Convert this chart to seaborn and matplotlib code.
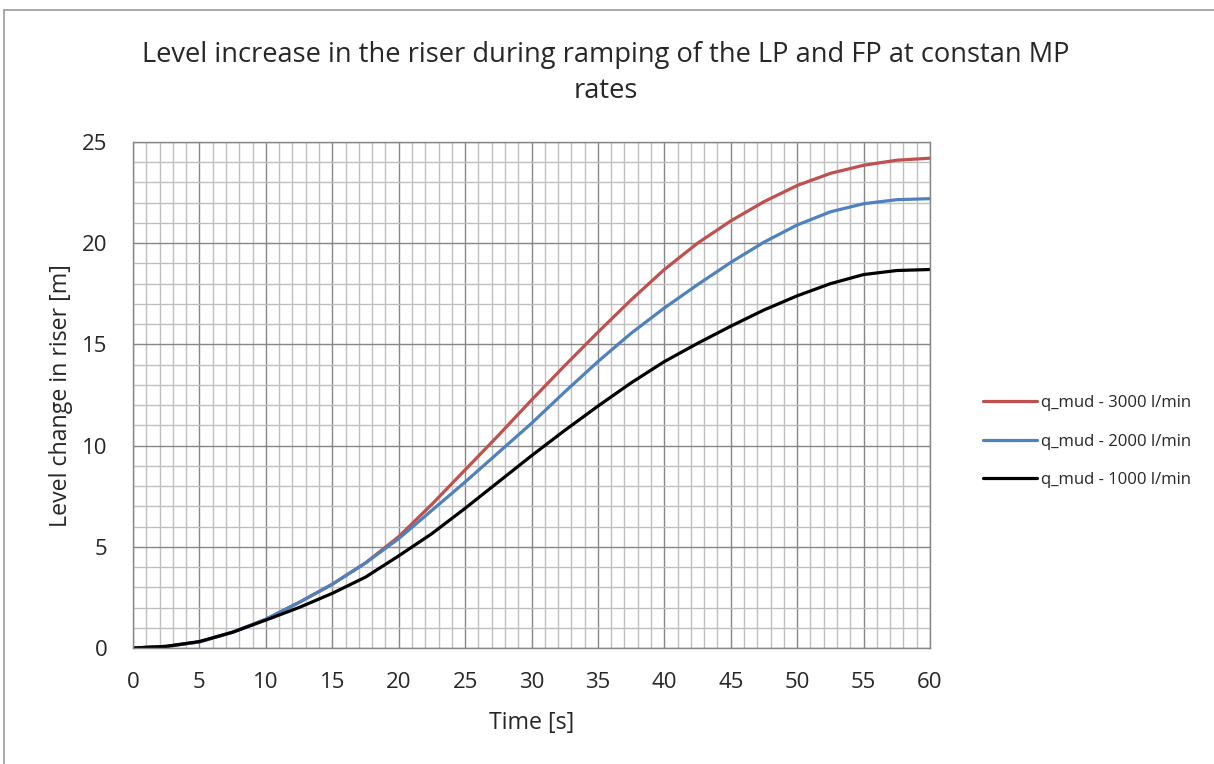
import matplotlib
matplotlib.use('Agg')
import matplotlib.pyplot as plt
import numpy as np
import pandas as pd
import seaborn as sns
from matplotlib.lines import Line2D
from matplotlib.ticker import MultipleLocator

time_s = [0, 2.5, 5, 7.5, 10, 12.5, 15, 17.5, 20, 22.5, 25, 27.5, 30,
          32.5, 35, 37.5, 40, 42.5, 45, 47.5, 50, 52.5, 55, 57.5, 60]
level_3000 = [0, 0.08, 0.3, 0.78, 1.42, 2.25, 3.15, 4.2, 5.5, 7.1, 8.8, 10.5, 12.25,
              13.95, 15.6, 17.2, 18.7, 20.0, 21.1, 22.05, 22.85, 23.45, 23.85, 24.1, 24.2]
level_2000 = [0, 0.08, 0.3, 0.78, 1.42, 2.25, 3.15, 4.2, 5.4, 6.8, 8.2, 9.65, 11.1,
              12.65, 14.15, 15.55, 16.8, 17.95, 19.05, 20.05, 20.9, 21.55, 21.95, 22.15, 22.2]
level_1000 = [0, 0.08, 0.32, 0.78, 1.38, 2.0, 2.7, 3.5, 4.55, 5.65, 6.9, 8.2, 9.5,
              10.75, 11.95, 13.1, 14.15, 15.05, 15.9, 16.7, 17.4, 18.0, 18.45, 18.65, 18.7]
series_names = ['q_mud - 3000 l/min', 'q_mud - 2000 l/min', 'q_mud - 1000 l/min']
title_lines = ['Level increase in the riser during ramping of the LP and FP at constan MP', 'rates']

df = pd.concat([
    pd.DataFrame({'time': time_s, 'level': level_3000, 'series': series_names[0]}),
    pd.DataFrame({'time': time_s, 'level': level_2000, 'series': series_names[1]}),
    pd.DataFrame({'time': time_s, 'level': level_1000, 'series': series_names[2]}),
])

sns.set_style('white')
plt.rcParams['font.family'] = ['Open Sans', 'DejaVu Sans']

W, H = 1214, 764
fig = plt.figure(figsize=(W / 100, H / 100), dpi=100)
ax = fig.add_axes([133 / W, 1 - 648 / H, (930 - 133) / W, (648 - 142) / H])
renderer = fig.canvas.get_renderer()


def fit_size(text, width_px, size=12):
    # font size that makes a text this wide in pixels
    t = fig.text(0, 0, text, fontsize=size)
    w = t.get_window_extent(renderer).width
    t.remove()
    return size * width_px / w


palette = {series_names[0]: '#C0504D', series_names[1]: '#4F81BD', series_names[2]: '#000000'}
sns.lineplot(data=df, x='time', y='level', hue='series', hue_order=series_names,
             palette=palette, linewidth=2.3, ax=ax, solid_joinstyle='round')

ax.set_xlim(0, 60)
ax.set_ylim(0, 25)
ax.xaxis.set_major_locator(MultipleLocator(5))
ax.yaxis.set_major_locator(MultipleLocator(5))
ax.xaxis.set_minor_locator(MultipleLocator(1))
ax.yaxis.set_minor_locator(MultipleLocator(1))
ax.grid(which='minor', color='#bfbfbf', linewidth=1.0)
ax.grid(which='major', color='#868686', linewidth=1.0)
ax.set_axisbelow(True)
for s in ax.spines.values():
    s.set_color('#868686')
    s.set_linewidth(1.0)

tick_size = 16
ax.tick_params(which='both', length=0, labelsize=tick_size)
ax.tick_params(axis='x', pad=17)
ax.tick_params(axis='y', pad=18.5)

label_size = fit_size('Level change in riser [m]', 262)
ax.set_xlabel('Time [s]', fontsize=label_size)
ax.set_ylabel('Level change in riser [m]', fontsize=label_size, va='center')
ax.xaxis.set_label_coords(0.5, -(711 - 648) / 506)
ax.yaxis.set_label_coords((61 - 133) / 797, 0.498)

title_size = fit_size(title_lines[0], 926)
fig.text(606 / W, 1 - 61.7 / H, title_lines[0], ha='center', va='baseline', fontsize=title_size)
fig.text(606 / W, 1 - 98 / H, title_lines[1], ha='center', va='baseline', fontsize=title_size)

leg_size = fit_size(series_names[0], 150)
em = leg_size * 100 / 72
probe = fig.text(0, 0, series_names[0], fontsize=leg_size)
row_h = probe.get_window_extent(renderer).height
probe.remove()
ax.legend(loc='center left', bbox_to_anchor=((983 - 133) / 797, (648 - 441.5) / 506),
          frameon=False, borderaxespad=0, borderpad=0, fontsize=leg_size,
          handlelength=54 / em, labelspacing=(38.5 - row_h) / em, handletextpad=4 / em)

fig.add_artist(Line2D([4 / W, 4 / W], [0, 1 - 10 / H], color='#9a9a9a',
                      linewidth=1.2, transform=fig.transFigure))
fig.add_artist(Line2D([4 / W, 1], [1 - 10 / H, 1 - 10 / H], color='#9a9a9a',
                      linewidth=1.2, transform=fig.transFigure))

fig.savefig('out.png', dpi=100)
